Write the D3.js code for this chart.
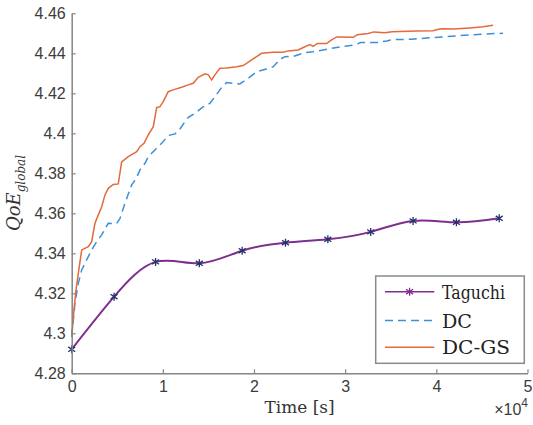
<!DOCTYPE html>
<html>
<head>
<meta charset="utf-8">
<script src="https://cdn.jsdelivr.net/npm/d3@7"></script>
<style>
html,body{margin:0;padding:0;background:#fff;}
svg{display:block;}
</style>
</head>
<body>
<svg id="chart" width="533" height="425"></svg>
<script>
// ---- data ----
const xTicks = [0, 10000, 20000, 30000, 40000, 50000];
const xTickLabels = ["0", "1", "2", "3", "4", "5"];
const yTicks = [4.28, 4.30, 4.32, 4.34, 4.36, 4.38, 4.40, 4.42, 4.44, 4.46];
const yTickLabels = ["4.28", "4.3", "4.32", "4.34", "4.36", "4.38", "4.4", "4.42", "4.44", "4.46"];

const taguchiTime = [0, 4650, 9200, 14000, 18700, 23450, 28100, 32800, 37450, 42200, 46900];
const taguchiValues = [4.2920, 4.3183, 4.3357, 4.3350, 4.3413, 4.3453, 4.3470, 4.3507, 4.3562, 4.3555, 4.3575];

const dcTime = [0, 180, 360, 720, 1100, 1640, 2190, 2740, 3290, 4010, 4930, 5300, 5840, 6580, 7050, 7490, 8040, 8400, 9130, 9870, 10590, 11330, 11880, 12420, 12790, 13520, 14400, 15160, 15710, 16450, 17000, 17720, 18450, 19190, 20290, 21380, 22110, 22840, 23390, 24480, 25470, 26490, 27590, 29060, 31060, 31720, 33620, 34570, 35260, 37310, 39290, 41120, 43670, 45500, 47320];
const dcValues = [4.2983, 4.3067, 4.3150, 4.3250, 4.3317, 4.3367, 4.3417, 4.3458, 4.3492, 4.3550, 4.3549, 4.3575, 4.3650, 4.3742, 4.3772, 4.3817, 4.3850, 4.3883, 4.3917, 4.3950, 4.3989, 4.3997, 4.4022, 4.4058, 4.4080, 4.4100, 4.4132, 4.4150, 4.4183, 4.4229, 4.4254, 4.4250, 4.4247, 4.4269, 4.4308, 4.4321, 4.4333, 4.4369, 4.4383, 4.4387, 4.4402, 4.4408, 4.4417, 4.4429, 4.4442, 4.4454, 4.4454, 4.4462, 4.4469, 4.4470, 4.4478, 4.4483, 4.4492, 4.4497, 4.4500];

const dcgsTime = [0, 250, 470, 830, 1100, 1820, 2190, 2550, 2920, 3290, 3650, 4010, 4560, 5110, 5480, 6210, 7130, 7490, 7930, 8400, 8950, 9320, 9680, 10040, 10590, 11110, 12060, 12790, 13330, 13880, 14620, 14980, 15350, 15710, 16260, 17000, 18090, 18820, 19740, 20830, 22110, 23200, 23750, 24850, 25400, 26130, 26490, 26950, 27960, 28510, 29060, 30880, 31340, 32520, 33150, 34350, 35120, 37830, 39650, 40110, 40600, 41840, 43670, 45130, 46230];
const dcgsValues = [4.2983, 4.3117, 4.3217, 4.3333, 4.3417, 4.3433, 4.3458, 4.3550, 4.3592, 4.3633, 4.3692, 4.3725, 4.3744, 4.3747, 4.3857, 4.3883, 4.3908, 4.3933, 4.3950, 4.3992, 4.4033, 4.4128, 4.4133, 4.4158, 4.4208, 4.4217, 4.4230, 4.4242, 4.4250, 4.4280, 4.4297, 4.4292, 4.4267, 4.4292, 4.4325, 4.4327, 4.4333, 4.4339, 4.4367, 4.4400, 4.4405, 4.4405, 4.4412, 4.4417, 4.4429, 4.4444, 4.4435, 4.4449, 4.4449, 4.4467, 4.4482, 4.4480, 4.4493, 4.4499, 4.4507, 4.4503, 4.4508, 4.4512, 4.4513, 4.4519, 4.4523, 4.4521, 4.4527, 4.4533, 4.4540];

const seriesNames = ["Taguchi", "DC", "DC-GS"];

// ---- drawing ----
const svg = d3.select("#chart");
const x = d3.scaleLinear().domain([0, 50000]).range([71.7, 527.5]);
const y = d3.scaleLinear().domain([4.28, 4.46]).range([373.3, 13.3]);

const serifFont = "DejaVu Serif";
const sansFont = "Liberation Sans";
const axisColor = "#858585";
const textColor = "#3c3c3c";
const cTag = "#7e2f8e", cMark = "#24306a", cDC = "#3d8fd6", cGS = "#e4693c";

const lineGen = d3.line().x(d => x(d[0])).y(d => y(d[1]));
svg.append("path")
  .attr("d", lineGen(dcTime.map((t, i) => [t, dcValues[i]])))
  .attr("fill", "none").attr("stroke", cDC).attr("stroke-width", 1.5)
  .attr("stroke-dasharray", "8,5");
svg.append("path")
  .attr("d", lineGen(dcgsTime.map((t, i) => [t, dcgsValues[i]])))
  .attr("fill", "none").attr("stroke", cGS).attr("stroke-width", 1.5);
const tagPts = taguchiTime.map((t, i) => [t, taguchiValues[i]]);
svg.append("path")
  .attr("d", d3.line().x(d => x(d[0])).y(d => y(d[1])).curve(d3.curveNatural)(tagPts))
  .attr("fill", "none").attr("stroke", cTag).attr("stroke-width", 2);

function asterisk(g, cx, cy, r, color) {
  const path = `M${cx},${cy - r}L${cx},${cy + r}` +
    `M${cx - r * 0.87},${cy - r * 0.6}L${cx + r * 0.87},${cy + r * 0.6}` +
    `M${cx - r * 0.87},${cy + r * 0.6}L${cx + r * 0.87},${cy - r * 0.6}`;
  g.append("path").attr("d", path).attr("stroke", color).attr("stroke-width", 1.3).attr("fill", "none");
}
const mg = svg.append("g");
tagPts.forEach(p => asterisk(mg, x(p[0]), y(p[1]), 4, cMark));

const xAxis = d3.axisBottom(x).tickValues(xTicks).tickSizeInner(-4).tickSizeOuter(0)
  .tickFormat((d, i) => xTickLabels[i]).tickPadding(7);
const gx = svg.append("g").attr("transform", `translate(0,${y(4.28)})`).call(xAxis);
const yAxis = d3.axisLeft(y).tickValues(yTicks).tickSizeInner(-4).tickSizeOuter(0)
  .tickFormat((d, i) => yTickLabels[i]).tickPadding(6);
const gy = svg.append("g").attr("transform", `translate(${x(0)},0)`).call(yAxis);
[gx, gy].forEach(g => {
  g.attr("font-family", sansFont).attr("font-size", 16);
  g.select(".domain").attr("stroke", axisColor).attr("stroke-width", 1.5);
  g.selectAll(".tick line").attr("stroke", axisColor).attr("stroke-width", 1.2);
  g.selectAll(".tick text").attr("fill", textColor);
});
gx.selectAll(".tick text").attr("dy", "0.75em");

svg.append("text").attr("font-family", serifFont).attr("x", 299.6).attr("y", 413).attr("text-anchor", "middle")
  .attr("font-size", 16).attr("fill", "#333")
  .attr("textLength", 70).attr("lengthAdjust", "spacingAndGlyphs")
  .text("Time [s]");
const ex = svg.append("text").attr("font-family", sansFont).attr("x", 528).attr("y", 415).attr("text-anchor", "end")
  .attr("font-size", 16).attr("fill", textColor);
ex.append("tspan").text("×10");
ex.append("tspan").attr("dy", -8).attr("font-size", 12).text("4");

const yl = svg.append("text").attr("font-family", serifFont).attr("transform", "translate(20,193) rotate(-90)")
  .attr("text-anchor", "middle").attr("font-style", "italic").attr("fill", "#333");
yl.append("tspan").attr("font-size", 18).text("QoE");
yl.append("tspan").attr("font-size", 12).attr("dy", 5).text("global");

const lg = svg.append("g");
lg.append("rect").attr("x", 375.7).attr("y", 276).attr("width", 148.6).attr("height", 87.3)
  .attr("fill", "#fff").attr("stroke", "#8a8a8a").attr("stroke-width", 1.5);
const legY = [291.7, 320.5, 347.3];
const legTextW = [63, 30, 68];
const legStyles = [
  {c: cTag, w: 1.5, dash: null},
  {c: cDC, w: 1.5, dash: "8,5"},
  {c: cGS, w: 1.5, dash: null}
];
seriesNames.forEach((name, i) => {
  const ln = lg.append("line").attr("x1", 385).attr("x2", 434.3).attr("y1", legY[i]).attr("y2", legY[i])
    .attr("stroke", legStyles[i].c).attr("stroke-width", legStyles[i].w);
  if (legStyles[i].dash) ln.attr("stroke-dasharray", legStyles[i].dash);
  lg.append("text").attr("font-family", serifFont).attr("x", 442).attr("y", legY[i] + 7)
    .attr("font-size", 19).attr("textLength", legTextW[i]).attr("lengthAdjust", "spacingAndGlyphs")
    .attr("fill", "#222").text(name);
});
asterisk(lg, 409.6, legY[0], 4, cTag);
</script>
</body>
</html>
